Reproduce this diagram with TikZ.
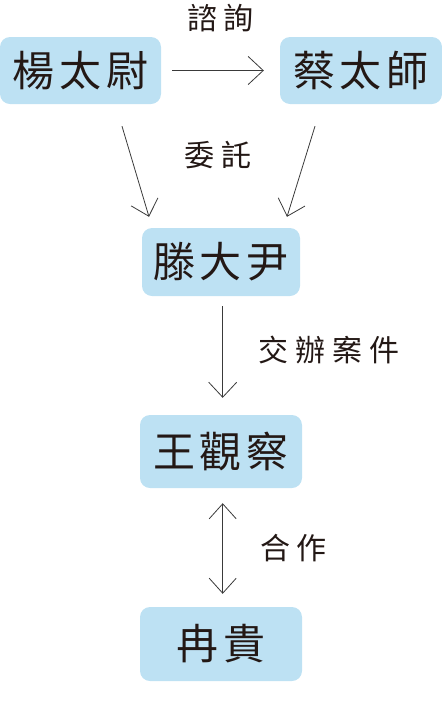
\documentclass[tikz,border=0pt]{standalone}
\usepackage{fontspec}
\setmainfont{Noto Sans CJK TC}
\usetikzlibrary{arrows.meta}
\definecolor{boxblue}{HTML}{BDE1F3}
\definecolor{ink}{HTML}{231815}
\definecolor{arrowgray}{HTML}{3A3A3A}
\newcommand{\ngap}{\hspace{5pt}}
\newcommand{\lgap}{\hspace{7pt}}
\tikzset{
  person/.style={fill=boxblue, rounded corners=10pt, text=ink, inner sep=0pt,
    font=\fontsize{42}{42}\selectfont, align=center},
  lbl/.style={text=ink, inner sep=0pt, font=\fontsize{30}{30}\selectfont},
  arr/.style={draw=arrowgray, line width=0.8pt, -{Straight Barb[length=15pt,width=28pt]}},
  darr/.style={draw=arrowgray, line width=0.8pt, {Straight Barb[length=15pt,width=27pt]}-{Straight Barb[length=15pt,width=27pt]}}
}
\begin{document}
\begin{tikzpicture}[x=1pt,y=1pt]
\useasboundingbox (0,0) rectangle (442,-705);
% nodes
\node[person, minimum width=161pt, minimum height=67pt] (yang) at (80.5,-70.5) {楊\ngap 太\ngap 尉};
\node[person, minimum width=162pt, minimum height=67pt] (cai) at (361,-70.5) {蔡\ngap 太\ngap 師};
\node[person, minimum width=158pt, minimum height=68pt] (teng) at (221,-262) {滕\ngap 大\ngap 尹};
\node[person, minimum width=162pt, minimum height=73pt] (wang) at (221,-451.5) {王\ngap 觀\ngap 察};
\node[person, minimum width=162pt, minimum height=74pt] (ran) at (221,-644) {冉\ngap 貴};
% labels
\node[lbl] (l1) at (220.5,-18.5) {諮\lgap 詢};
\node[lbl] (l2) at (218,-155) {委\lgap 託};
\node[lbl] (l3) at (329,-350) {交\lgap 辦\lgap 案\lgap 件};
\node[lbl] (l4) at (293.5,-548) {合\lgap 作};
% connectors
\draw[arr] ([xshift=11pt]yang.east) -- ([xshift=-16pt]cai.west);
\draw[arr] ([shift={(41.5,-22)}]yang.south) -- ([shift={(-72,11)}]teng.north);
\draw[arr] ([shift={(-46,-22)}]cai.south) -- ([shift={(66,11)}]teng.north);
\draw[arr] ([shift={(1.7,-10)}]teng.south) -- ([shift={(1.7,17)}]wang.north);
\draw[darr] ([shift={(1.7,-15)}]wang.south) -- ([shift={(1.7,13)}]ran.north);
\end{tikzpicture}
\end{document}
